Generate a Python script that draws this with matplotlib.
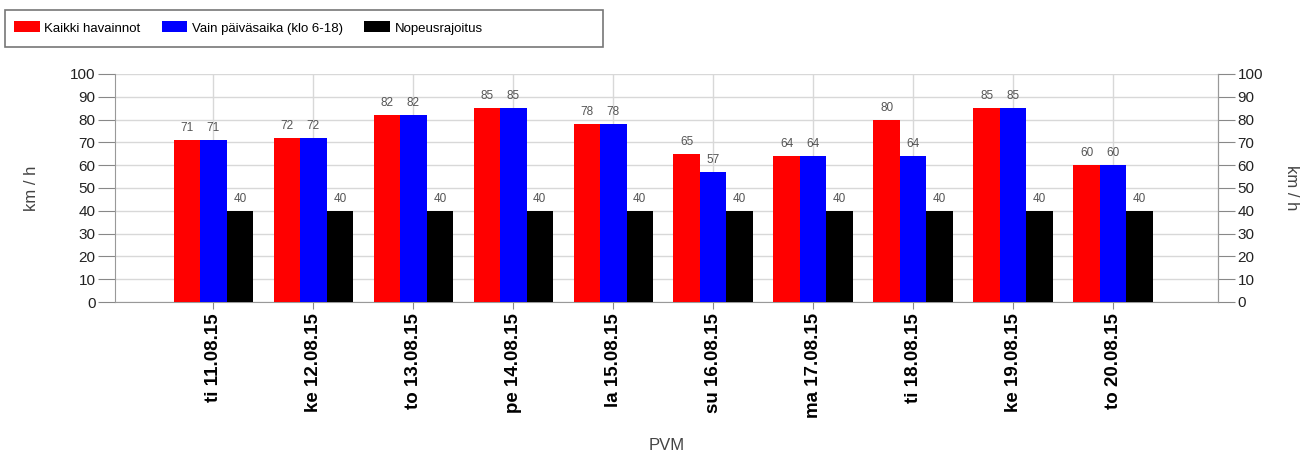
import numpy as np
import matplotlib.pyplot as plt
from matplotlib.patches import Rectangle

plt.rcParams['font.family'] = ['Liberation Sans', 'DejaVu Sans']

paivat = ['ti 11.08.15', 'ke 12.08.15', 'to 13.08.15', 'pe 14.08.15', 'la 15.08.15',
          'su 16.08.15', 'ma 17.08.15', 'ti 18.08.15', 'ke 19.08.15', 'to 20.08.15']
kaikki = [71, 72, 82, 85, 78, 65, 64, 80, 85, 60]
paiva = [71, 72, 82, 85, 78, 57, 64, 64, 85, 60]
raja = [40, 40, 40, 40, 40, 40, 40, 40, 40, 40]

fig = plt.figure(figsize=(13.11, 4.54), dpi=100)
ax = fig.add_axes([115 / 1311, 1 - 302 / 454, (1218 - 115) / 1311, (302 - 74) / 454])

x = np.arange(len(paivat))
w = 0.265
sarjat = [(kaikki, '#ff0000', 'Kaikki havainnot', -w),
          (paiva, '#0000ff', 'Vain päiväsaika (klo 6-18)', 0),
          (raja, '#000000', 'Nopeusrajoitus', w)]
for vals, col, lab, off in sarjat:
    bars = ax.bar(x + off, vals, w, color=col, label=lab, zorder=3)
    for b, v in zip(bars, vals):
        ax.text(b.get_x() + b.get_width() / 2, v + 2.5, str(v), ha='center', va='bottom',
                fontsize=8.5, color='#555555')

ax.set_xlim(-0.985, 10.05)
ax.set_ylim(0, 100)
ax.set_yticks(range(0, 101, 10))
ax.set_xticks(x)
ax.set_xticklabels(paivat, rotation=90, fontsize=13.5, fontweight='bold')
ax.grid(True, color='#d8d8d8', linewidth=1, zorder=0)
ax.tick_params(axis='y', length=12, color='#888888', labelsize=11, labelcolor='#222222', pad=2)
ax.tick_params(axis='x', length=5, color='#888888', pad=3)
ax.spines['top'].set_visible(False)
for s in ['left', 'right', 'bottom']:
    ax.spines[s].set_color('#999999')
ax.set_ylabel('km / h', fontsize=12, color='#444444', labelpad=22)
ax.set_xlabel('PVM', fontsize=12, color='#444444', labelpad=14)

ax2 = ax.twinx()
ax2.set_ylim(0, 100)
ax2.set_yticks(range(0, 101, 10))
ax2.tick_params(axis='y', length=12, color='#888888', labelsize=11, labelcolor='#222222', pad=2)
for s in ['top', 'left', 'bottom']:
    ax2.spines[s].set_visible(False)
ax2.spines['right'].set_color('#999999')
ax2.set_ylabel('km / h', fontsize=12, color='#444444', rotation=270, labelpad=26)

# legend box drawn separately so its width matches the original
fig.patches.append(Rectangle((5 / 1311, 1 - 47 / 454), 598 / 1311, 37 / 454,
                             transform=fig.transFigure, facecolor='white',
                             edgecolor='#777777', linewidth=1.2))
fig.legend(loc='center left', bbox_to_anchor=(14 / 1311, 1 - 28 / 454), ncol=3,
           fontsize=9.5, frameon=False, handlelength=1.95, handleheight=0.9,
           columnspacing=1.6, borderpad=0, borderaxespad=0, handletextpad=0.35)

fig.savefig('out.png', dpi=100)
